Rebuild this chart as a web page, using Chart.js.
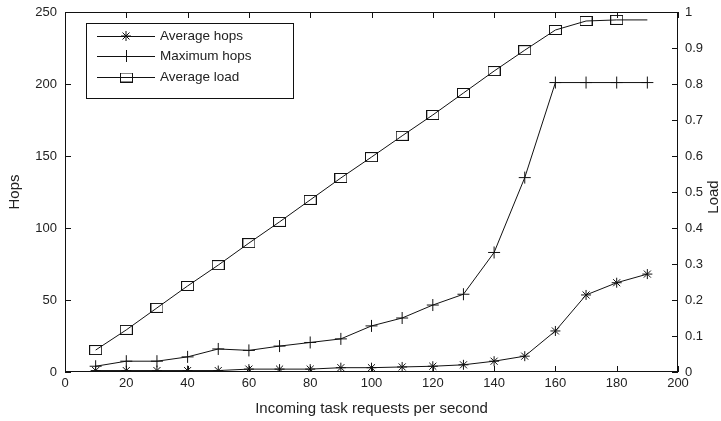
<!DOCTYPE html>
<html>
<head>
<meta charset="utf-8">
<script src="https://cdn.jsdelivr.net/npm/chart.js@4.4.0/dist/chart.umd.min.js"></script>
<style>
  html, body { margin: 0; padding: 0; background: #fff; }
  #contenedor { width: 721px; height: 421px; }
</style>
</head>
<body>
<div id="contenedor"><canvas id="grafico"></canvas></div>
<script>
// Datos
const peticiones = [10, 20, 30, 40, 50, 60, 70, 80, 90, 100, 110, 120, 130, 140, 150, 160, 170, 180, 190];
const saltosMedios = [1, 1, 1, 1, 1, 2, 2, 2, 3, 3, 3.5, 4, 5, 7.5, 11, 28.5, 53.5, 62, 68];
const saltosMaximos = [4, 7.5, 7.5, 10.5, 16, 15, 18, 20.5, 23, 32, 37.5, 46.5, 54, 83, 135, 201, 201, 201, 201];
const cargaMedia = [0.061, 0.117, 0.178, 0.239, 0.297, 0.358, 0.417, 0.478, 0.539, 0.597, 0.656, 0.714, 0.775, 0.836, 0.894, 0.95, 0.975, 0.978, 0.978];
const nombres = ["Average hops", "Maximum hops", "Average load"];

const tinta = "#111";
const fuente = "'Liberation Sans', Arial, sans-serif";
Chart.defaults.font.family = fuente;
Chart.defaults.font.size = 13;
Chart.defaults.color = "#222";

// cuadro abierto para la carga media
const cuadro = document.createElement("canvas");
cuadro.width = 13;
cuadro.height = 10;
const cc = cuadro.getContext("2d");
cc.strokeStyle = tinta;
cc.lineWidth = 1;
cc.strokeRect(0.5, 0.5, 12, 9);

const puntos = (arr) => arr.map((y, i) => ({ x: peticiones[i], y: y }));

// marco estilo gnuplot, ticks hacia dentro, leyenda y titulo derecho
const marco = {
  id: "marco",
  afterDraw(chart) {
    const ctx = chart.ctx;
    const a = chart.chartArea;
    const sx = chart.scales.x, sy = chart.scales.y, sy1 = chart.scales.y1;
    ctx.save();
    ctx.strokeStyle = tinta;
    ctx.lineWidth = 1;
    ctx.strokeRect(a.left + 0.5, a.top + 0.5, a.right - a.left - 1, a.bottom - a.top - 1);
    ctx.beginPath();
    sx.ticks.forEach((t) => {
      const px = Math.round(sx.getPixelForValue(t.value)) + 0.5;
      ctx.moveTo(px, a.bottom); ctx.lineTo(px, a.bottom - 6);
      ctx.moveTo(px, a.top); ctx.lineTo(px, a.top + 6);
    });
    sy.ticks.forEach((t) => {
      const py = Math.round(sy.getPixelForValue(t.value)) + 0.5;
      ctx.moveTo(a.left, py); ctx.lineTo(a.left + 6, py);
    });
    sy1.ticks.forEach((t) => {
      const py = Math.round(sy1.getPixelForValue(t.value)) + 0.5;
      ctx.moveTo(a.right, py); ctx.lineTo(a.right - 6, py);
    });
    ctx.stroke();

    // leyenda
    ctx.strokeRect(86.5, 23.5, 207, 75);
    const filas = [36, 56, 77];
    ctx.font = "13.5px " + fuente;
    ctx.fillStyle = "#222";
    ctx.textBaseline = "middle";
    filas.forEach((y, i) => {
      ctx.beginPath();
      ctx.moveTo(97, y + 0.5); ctx.lineTo(155, y + 0.5);
      const cx = 126;
      if (i === 0) {
        ctx.moveTo(cx - 5, y); ctx.lineTo(cx + 5, y);
        ctx.moveTo(cx, y - 5); ctx.lineTo(cx, y + 5);
        ctx.moveTo(cx - 3.5, y - 3.5); ctx.lineTo(cx + 3.5, y + 3.5);
        ctx.moveTo(cx - 3.5, y + 3.5); ctx.lineTo(cx + 3.5, y - 3.5);
      } else if (i === 1) {
        ctx.moveTo(cx + 0.5, y - 6); ctx.lineTo(cx + 0.5, y + 6);
      }
      ctx.stroke();
      if (i === 2) ctx.drawImage(cuadro, cx - 6, y - 4.5);
      ctx.fillText(nombres[i], 160, y);
    });

    // titulo del eje derecho
    ctx.save();
    ctx.translate(714, 197);
    ctx.rotate(-Math.PI / 2);
    ctx.textAlign = "center";
    ctx.textBaseline = "middle";
    ctx.font = "15px " + fuente;
    ctx.fillText("Load", 0, 0);
    ctx.restore();
    ctx.restore();
  }
};

new Chart(document.getElementById("grafico"), {
  type: "line",
  data: {
    datasets: [
      {
        label: nombres[0],
        data: puntos(saltosMedios),
        yAxisID: "y",
        borderColor: tinta,
        borderWidth: 1,
        pointStyle: "star",
        pointRadius: 5,
        pointBorderColor: tinta,
        pointBorderWidth: 1,
        fill: false,
      },
      {
        label: nombres[1],
        data: puntos(saltosMaximos),
        yAxisID: "y",
        borderColor: tinta,
        borderWidth: 1,
        pointStyle: "cross",
        pointRadius: 6,
        pointBorderColor: tinta,
        pointBorderWidth: 1,
        fill: false,
      },
      {
        label: nombres[2],
        data: puntos(cargaMedia),
        yAxisID: "y1",
        borderColor: tinta,
        borderWidth: 1,
        pointStyle: cuadro,
        pointRadius: peticiones.map((p, i) => (i === peticiones.length - 1 ? 0 : 5)),
        fill: false,
      },
    ],
  },
  options: {
    responsive: true,
    maintainAspectRatio: false,
    animation: false,
    layout: { padding: { top: 12, left: 0, right: 0, bottom: 0 } },
    plugins: {
      legend: { display: false },
      tooltip: { enabled: false },
    },
    scales: {
      x: {
        type: "linear",
        min: 0,
        max: 200,
        ticks: { stepSize: 20, padding: 4 },
        grid: { display: false, drawTicks: false },
        border: { display: false },
        title: { display: true, text: "Incoming task requests per second", font: { size: 15 }, padding: { top: 0, bottom: 3 } },
        afterFit: (s) => { s.height = 49; s.paddingLeft = 0; s.paddingRight = 0; },
      },
      y: {
        position: "left",
        min: 0,
        max: 250,
        ticks: { stepSize: 50, padding: 8 },
        grid: { display: false, drawTicks: false },
        border: { display: false },
        title: { display: true, text: "Hops", font: { size: 15 }, padding: { top: 6, bottom: 0 } },
        afterFit: (s) => { s.width = 65; s.paddingTop = 0; s.paddingBottom = 0; },
      },
      y1: {
        position: "right",
        min: 0,
        max: 1,
        ticks: { stepSize: 0.1, padding: 7, callback: (v) => String(Number(v.toFixed(1))) },
        grid: { display: false, drawTicks: false },
        border: { display: false },
        afterFit: (s) => { s.width = 43; s.paddingTop = 0; s.paddingBottom = 0; },
      },
    },
  },
  plugins: [marco],
});
</script>
</body>
</html>
